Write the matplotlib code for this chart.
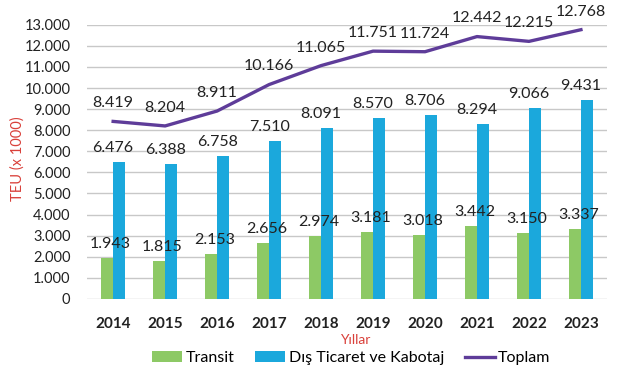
import matplotlib
matplotlib.use("Agg")
import matplotlib.pyplot as plt
import numpy as np

years = ["2014", "2015", "2016", "2017", "2018", "2019", "2020", "2021", "2022", "2023"]
transit = [1943, 1815, 2153, 2656, 2974, 3181, 3018, 3442, 3150, 3337]
dis_ticaret = [6476, 6388, 6758, 7510, 8091, 8570, 8706, 8294, 9066, 9431]
toplam = [8419, 8204, 8911, 10166, 11065, 11751, 11724, 12442, 12215, 12768]
yticks = list(range(0, 14000, 1000))

plt.rcParams['font.family'] = ['Lato', 'DejaVu Sans']

def fmt(v):
    return f"{v:,}".replace(",", ".")

fig = plt.figure(figsize=(6.27, 3.76), dpi=100)
ax = fig.add_axes([0.139, 0.205, 0.829, 0.729])

x = np.arange(len(years))
w = 0.237
green = "#8DC965"
blue = "#1BA8DC"
purple = "#5E3C99"

h_tr = ax.bar(x - w / 2, transit, width=w, color=green, label="Transit", zorder=2)
h_dt = ax.bar(x + w / 2, dis_ticaret, width=w, color=blue, label="Dış Ticaret ve Kabotaj", zorder=2)
h_tp, = ax.plot(x, toplam, color=purple, lw=2.4, label="Toplam", zorder=3)

for i in range(len(years)):
    ax.annotate(fmt(transit[i]), (x[i] - 0.05, transit[i]), xytext=(0, 5), textcoords="offset points",
                ha="center", va="bottom", fontsize=11.5, color="#222222", zorder=4)
    ax.annotate(fmt(dis_ticaret[i]), (x[i] + 0.0, dis_ticaret[i]), xytext=(0, 5), textcoords="offset points",
                ha="center", va="bottom", fontsize=11.5, color="#222222", zorder=4)
    ax.annotate(fmt(toplam[i]), (x[i], toplam[i]), xytext=(0, 8), textcoords="offset points",
                ha="center", va="bottom", fontsize=11.5, color="#222222", zorder=4)

ax.set_ylim(0, 13000)
ax.set_xlim(-0.5, len(years) - 0.5)
ax.set_yticks(yticks)
ax.set_yticklabels([fmt(v) for v in yticks], fontsize=10.5, color="#222222")
ax.set_xticks(x)
ax.set_xticklabels(years, fontsize=11, fontweight="bold", color="#222222")
ax.tick_params(axis="x", length=0, pad=13)
ax.tick_params(axis="y", length=0, pad=12)
ax.grid(axis="y", color="#C8C8C8", lw=1, zorder=0)
for s in ax.spines.values():
    s.set_visible(False)

fig.text(18 / 627, 1 - 159 / 376, "TEU (x 1000)", color="#D9403A", fontsize=10.5,
         rotation=90, ha="center", va="center")
fig.text(355 / 627, 1 - 340 / 376, "Yıllar", color="#D9403A", fontsize=10,
         ha="center", va="center")

fig.legend(handles=[h_tr, h_dt, h_tp], loc="center", bbox_to_anchor=(0.56, 1 - 358 / 376), ncol=3,
           frameon=False, fontsize=11.5, handlelength=1.9, handleheight=0.7, handletextpad=0.2,
           columnspacing=1.3)

fig.savefig("out.png", dpi=100)
